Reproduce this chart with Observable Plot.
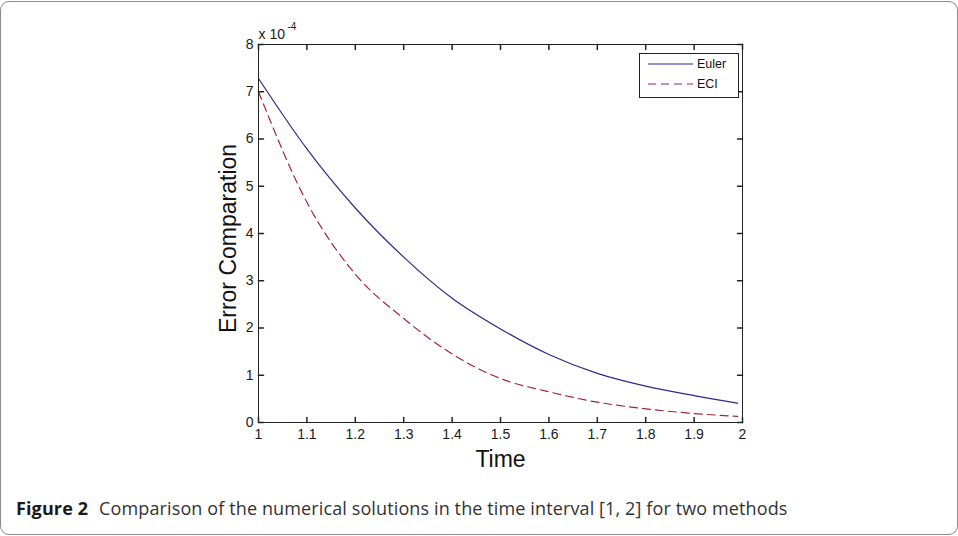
<!DOCTYPE html>
<html>
<head>
<meta charset="utf-8">
<script src="https://cdn.jsdelivr.net/npm/d3@7"></script>
<script src="https://cdn.jsdelivr.net/npm/@observablehq/plot@0.6"></script>
<style>
  html, body { margin: 0; padding: 0; background: #fff; }
  #page { position: relative; width: 958px; height: 536px; overflow: hidden; }
  #border { position: absolute; left: 0; top: 1px; width: 958px; height: 534px; box-sizing: border-box;
            border: 1px solid #8c8c8c; border-radius: 9px; }
  #chart { position: absolute; left: 0; top: 0; }
  #legend { position: absolute; left: 639px; top: 53px; width: 100px; height: 45px; box-sizing: border-box;
            border: 1px solid #222; background: #fff; }
  #legend svg { position: absolute; left: 0; top: 0; }
  #caption { position: absolute; left: 16px; top: 499px; font-family: "Open Sans", sans-serif; font-size: 18px;
             line-height: 18px; color: #333; white-space: nowrap; letter-spacing: 0.12px; }
  #caption b { color: #1a1a1a; margin-right: 11px; }
</style>
</head>
<body>
<div id="page">
  <div id="border"></div>
  <div id="chart"></div>
  <div id="legend"></div>
  <div id="caption"><b>Figure 2</b>Comparison of the numerical solutions in the time interval [1, 2] for two methods</div>
</div>
<script>
// Values are in units of 1e-4 (as displayed with the "x 10^-4" multiplier)
const times = [1.0, 1.1, 1.2, 1.3, 1.4, 1.5, 1.6, 1.7, 1.8, 1.9, 1.99];
const euler = [7.28, 5.79, 4.54, 3.50, 2.63, 1.98, 1.44, 1.04, 0.77, 0.57, 0.41];
const eci   = [7.00, 4.66, 3.14, 2.20, 1.45, 0.93, 0.65, 0.43, 0.29, 0.19, 0.13];
const xTicks = [1, 1.1, 1.2, 1.3, 1.4, 1.5, 1.6, 1.7, 1.8, 1.9, 2];
const yTicks = [0, 1, 2, 3, 4, 5, 6, 7, 8];
const seriesNames = ["Euler", "ECI"];
const seriesColors = ["#2c2c8a", "#a3243e"];
const xLabel = "Time";
const yLabel = "Error Comparation";
const multiplier = "x 10";
const exponent = "-4";

const eulerData = times.map((t, i) => ({t, v: euler[i]}));
const eciData = times.map((t, i) => ({t, v: eci[i]}));

const inward = {draw(ctx, l) { ctx.moveTo(0, 0); ctx.lineTo(0, -l); }};
const font = "Liberation Sans, Arial, sans-serif";
const axisColor = "#222";

const chart = Plot.plot({
  width: 958,
  height: 480,
  marginLeft: 258,
  marginRight: 216,
  marginTop: 44,
  marginBottom: 58,
  style: {fontFamily: font, background: "transparent", color: "#1a1a1a"},
  x: {domain: [1, 2]},
  y: {domain: [0, 8]},
  marks: [
    Plot.line(eulerData, {x: "t", y: "v", stroke: seriesColors[0], strokeWidth: 1.2, curve: "monotone-x"}),
    Plot.line(eciData, {x: "t", y: "v", stroke: seriesColors[1], strokeWidth: 1.2, strokeDasharray: "8,5", curve: "monotone-x"}),
    Plot.frame({stroke: axisColor, strokeWidth: 1}),
    // inward ticks on all four sides
    Plot.vector(xTicks, {x: d => d, frameAnchor: "bottom", length: 5, rotate: 0, anchor: "start", shape: inward, stroke: axisColor}),
    Plot.vector(xTicks, {x: d => d, frameAnchor: "top", length: 5, rotate: 180, anchor: "start", shape: inward, stroke: axisColor}),
    Plot.vector(yTicks, {y: d => d, frameAnchor: "left", length: 5, rotate: 90, anchor: "start", shape: inward, stroke: axisColor}),
    Plot.vector(yTicks, {y: d => d, frameAnchor: "right", length: 5, rotate: -90, anchor: "start", shape: inward, stroke: axisColor}),
    Plot.axisX(xTicks, {anchor: "bottom", tickSize: 0, tickPadding: 7, fontSize: 14, label: null, tickFormat: d => String(d)}),
    Plot.axisY(yTicks, {anchor: "left", tickSize: 0, tickPadding: 5, fontSize: 14, label: null, tickFormat: d => String(d)}),
    Plot.text([xLabel], {frameAnchor: "bottom", textAnchor: "middle", lineAnchor: "middle", dy: 37, fontSize: 23, fill: "#111"}),
    Plot.text([yLabel], {frameAnchor: "left", textAnchor: "middle", lineAnchor: "middle", dx: -30, dy: 5, rotate: -90, fontSize: 23, fill: "#111"}),
    Plot.text([multiplier], {frameAnchor: "top-left", textAnchor: "start", lineAnchor: "bottom", dy: -6, fontSize: 14, fill: "#1a1a1a"}),
    Plot.text([exponent], {frameAnchor: "top-left", textAnchor: "start", lineAnchor: "bottom", dx: 29, dy: -15, fontSize: 10, fill: "#1a1a1a"})
  ]
});
document.getElementById("chart").appendChild(chart);

// legend
const legend = d3.select("#legend");
const lsvg = legend.append("svg").attr("width", 98).attr("height", 43);
const rowsY = [10, 30];
seriesNames.forEach((name, i) => {
  lsvg.append("line").attr("x1", 8).attr("x2", 53).attr("y1", rowsY[i]).attr("y2", rowsY[i])
    .attr("stroke", seriesColors[i]).attr("stroke-width", 1.2)
    .attr("stroke-dasharray", i === 1 ? "8,5" : null);
  lsvg.append("text").attr("x", 57).attr("y", rowsY[i]).attr("dy", "0.35em")
    .attr("font-family", font).attr("font-size", 12.5).attr("fill", "#111").text(name);
});
</script>
</body>
</html>
